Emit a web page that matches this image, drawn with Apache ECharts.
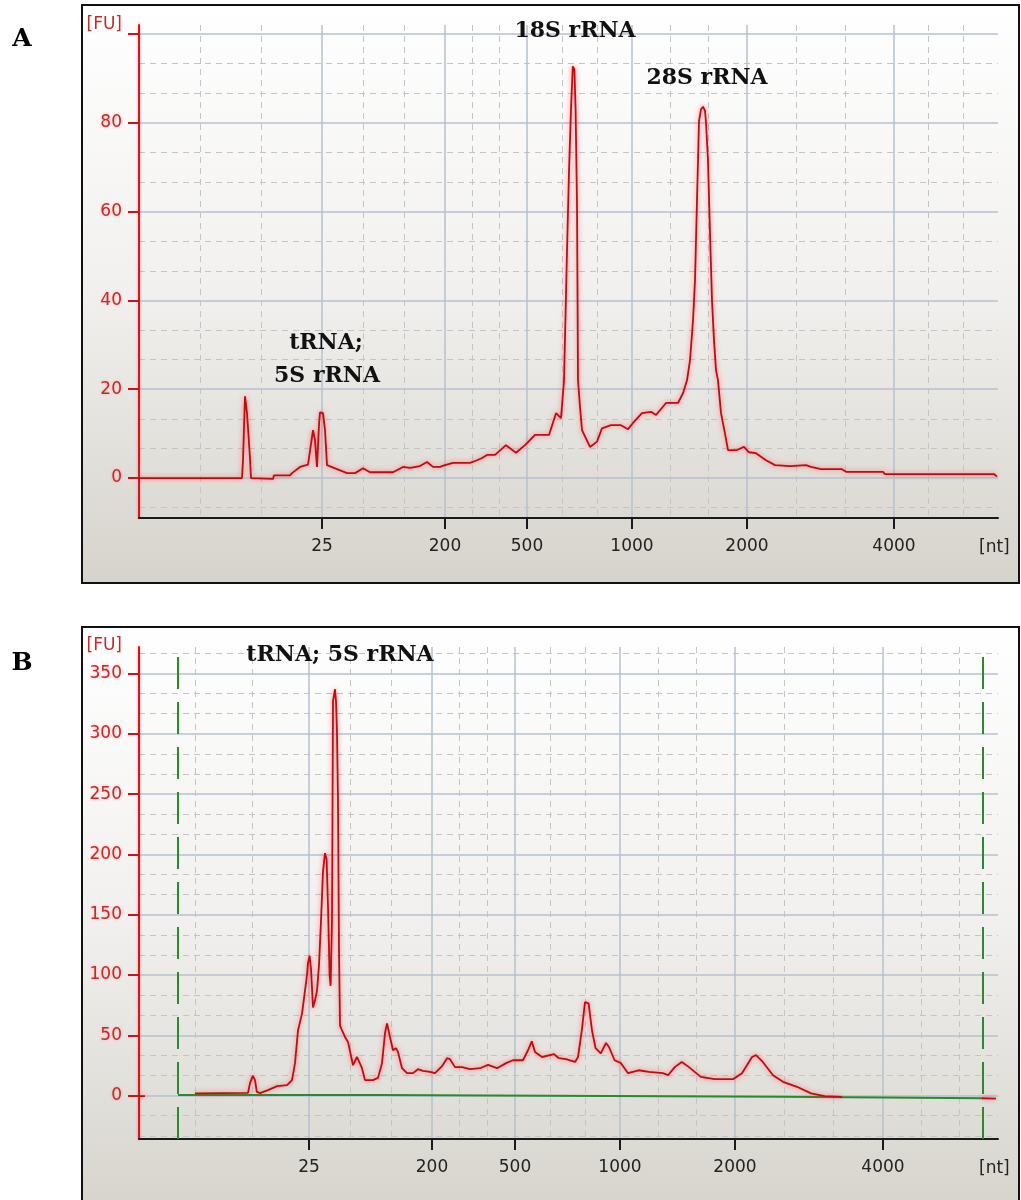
<!DOCTYPE html>
<html><head><meta charset="utf-8">
<script src="https://cdn.jsdelivr.net/npm/echarts@6/dist/echarts.min.js"></script>
<style>html,body{margin:0;padding:0;background:#fff}#c{width:1021px;height:1200px}</style>
</head><body><div id="c"></div>
<script>
// ---- shared axis data ----
const ladderNt = [25, 200, 500, 1000, 2000, 4000];
const ladderTimeA = [16.1, 22.25, 26.35, 31.6, 37.35, 44.7];
const ladderTimeB = [15.45, 21.6, 25.75, 31.0, 36.75, 44.15];
const timeRange = [6.95, 49.9];
const fuTicksA = [0, 20, 40, 60, 80, 100];
const fuLabelsA = [0, 20, 40, 60, 80];
const fuTicksB = [0, 50, 100, 150, 200, 250, 300, 350];
const fuRangeA = [-9, 102];
const fuRangeB = [-36, 372];

// ---- panel A trace (migration time s, FU) ----
const timeA = [6.95,12.1,12.15,12.25,12.35,12.5,12.55,12.65,13.65,13.7,14.5,14.6,15.0,15.4,15.5,15.65,15.75,15.85,15.95,16.0,16.15,16.25,16.35,16.85,17.35,17.75,18.15,18.5,19.65,20.15,20.5,21.0,21.35,21.65,22.0,22.25,22.65,23.5,23.85,24.1,24.35,24.75,25.3,25.8,26.25,26.75,27.45,27.8,28.05,28.2,28.35,28.45,28.55,28.64,28.72,28.78,28.85,28.9,29.0,29.1,29.5,29.85,30.1,30.55,31.05,31.4,31.65,32.1,32.55,32.8,33.3,33.9,34.15,34.35,34.5,34.65,34.75,34.85,34.95,35.05,35.15,35.25,35.3,35.4,35.5,35.6,35.7,35.8,35.9,36.05,36.25,36.4,36.85,37.2,37.45,37.8,38.3,38.75,39.5,40.3,40.55,41.05,42.1,42.3,44.15,44.25,49.7,49.85];
const fuA = [0,0,4.0,18.4,14.6,4.5,0,-0.2,-0.2,0.6,0.6,1.1,2.5,3.0,3.4,10.8,8.5,2.5,12,14.8,14.6,10.8,2.9,2.0,1.1,1.1,2.2,1.3,1.3,2.5,2.3,2.7,3.6,2.5,2.5,2.9,3.4,3.4,4.0,4.5,5.2,5.2,7.4,5.7,7.4,9.7,9.7,14.6,13.5,22,51,69,83,92.7,92,83,62,22,16,10.8,7.0,8.2,11.2,11.9,11.9,11.0,12.4,14.6,14.9,14.2,16.9,16.9,19.1,22,26.5,35.5,44.5,62.5,80.4,83,83.6,82.7,80,71.5,55,40,31,24.3,22,14.6,10,6.3,6.3,7.0,5.8,5.6,4.0,2.9,2.7,2.9,2.5,2.0,2.0,1.4,1.4,0.9,0.9,0.3];

// ---- panel B trace ----
const timeB = [6.95,7.25,7.3,9.75,12.4,12.5,12.64,12.75,12.84,13.0,13.4,13.85,14.35,14.6,14.75,14.9,15.1,15.25,15.35,15.4,15.48,15.55,15.65,15.75,15.85,15.95,16.05,16.15,16.25,16.33,16.4,16.48,16.53,16.6,16.65,16.75,16.8,16.85,16.9,16.95,17.0,17.1,17.25,17.4,17.65,17.85,17.95,18.1,18.25,18.65,18.9,19.1,19.25,19.35,19.5,19.65,19.8,19.9,20.1,20.35,20.65,20.9,21.15,21.5,21.75,22.1,22.35,22.5,22.75,23.1,23.5,24.0,24.4,24.85,25.3,25.65,26.15,26.4,26.59,26.75,27.1,27.7,27.95,28.3,28.75,28.9,29.09,29.25,29.43,29.6,29.78,30.04,30.3,30.45,30.73,31.05,31.4,31.93,32.45,33.14,33.4,33.75,34.09,34.43,35.04,35.73,36.65,37.1,37.6,37.8,38.14,38.65,39.15,39.85,40.55,41.24,42.1,42.15,49.1,49.8];
const fuB = [-0.4,-0.4,'-',1.8,2.3,10.3,16.4,12.8,3.1,2.1,4.5,7.9,8.7,12.8,26.9,54,68,87,100,110,116,105,73,79,87,108,145,186,201,196,157,100,91,145,327,337,327,300,244,120,58,54,48.6,44.5,25.2,32,33.5,22.7,12.8,12.8,14.7,26.9,51.7,59.9,48.6,37.6,39.3,36.2,22.7,18.6,18.6,21.9,20.5,19.7,18.6,24.4,31,30.2,23.6,23.6,21.9,22.7,25.5,22.7,26.9,29.3,29.3,37.6,45,36.2,32,34.3,31,30.2,27.9,32,54,77.5,76.4,54,39.3,35,43.6,40.3,29.3,26.9,18.6,21,19.7,18.6,16.9,23.8,27.9,23.8,15.5,13.6,13.6,18.6,32,33.5,27.9,16.9,11.4,7.3,1.8,-0.4,-1,'-',-2.2,-2.6];
const baselineTimeB = [8.9, 19.0, 19.0, 39.0, 39.0, 49.15];
const baselineFuB = [0.4, 0.4, -1.0, -1.0, -2.3, -2.3];
const markerTimeB = [8.9, 49.15];

const annotationA = ['18S rRNA', '28S rRNA', 'tRNA;', '5S rRNA'];
const annotationB = ['tRNA; 5S rRNA'];

// ---- helpers ----
function thirds(bounds) {
  const out = [];
  for (let i = 0; i < bounds.length - 1; i++) {
    const a = bounds[i], b = bounds[i + 1];
    out.push(a + (b - a) / 3, a + 2 * (b - a) / 3);
  }
  return out;
}
function minorY(range, step) {
  const s = step / 3, out = [];
  for (let j = Math.ceil(range[0] / s); j * s <= range[1]; j++) {
    if (j % 3 !== 0) out.push(j * s);
  }
  return out;
}
function ntLabel(ladderTime) {
  return function (v) {
    let best = 0;
    ladderTime.forEach((t, i) => { if (Math.abs(t - v) < Math.abs(ladderTime[best] - v)) best = i; });
    return String(ladderNt[best]);
  };
}
const zip = (xs, ys) => xs.map((x, i) => [x, ys[i]]);

const RED = '#c20a12';
const GRIDMAJ = '#b5c0d0';
const GRIDMIN = '#c4c4c4';
const labelFont = 'DejaVu Sans';

function xAxes(g, ladder) {
  const minor = thirds([timeRange[0], ...ladder, timeRange[1]]);
  return [
    { gridIndex: g, type: 'value', min: timeRange[0], max: timeRange[1], position: 'bottom',
      axisLine: { show: true, onZero: false, lineStyle: { color: '#1a1a1a', width: 2 } },
      axisTick: { show: true, customValues: ladder, length: 11, lineStyle: { color: '#1a1a1a', width: 2 } },
      axisLabel: { customValues: ladder, formatter: ntLabel(ladder), margin: 20, color: '#222', fontSize: 17, fontFamily: labelFont },
      splitLine: { show: true, lineStyle: { color: GRIDMAJ, width: 1.5 } } },
    { gridIndex: g, type: 'value', min: timeRange[0], max: timeRange[1], position: 'bottom',
      axisLine: { show: false }, axisTick: { show: false, customValues: minor },
      axisLabel: { show: false, customValues: minor },
      splitLine: { show: true, lineStyle: { color: GRIDMIN, width: 1, type: [6, 5] } } }
  ];
}
function yAxes(g, ticks, labels, range, step) {
  const minor = minorY(range, step);
  return [
    { gridIndex: g, type: 'value', min: range[0], max: range[1],
      axisLine: { show: true, onZero: false, lineStyle: { color: '#d4161c', width: 2, shadowColor: 'rgba(255,0,0,0.4)', shadowBlur: 3 } },
      axisTick: { show: true, customValues: ticks, length: 11, lineStyle: { color: '#c8141c', width: 2 } },
      axisLabel: { customValues: labels, margin: 17, color: '#c52a2a', fontSize: 17, fontFamily: labelFont,
        textShadowColor: 'rgba(255,40,40,0.35)', textShadowBlur: 3 },
      splitLine: { show: true, lineStyle: { color: GRIDMAJ, width: 1.5 } } },
    { gridIndex: g, type: 'value', min: range[0], max: range[1],
      axisLine: { show: false }, axisTick: { show: false, customValues: minor },
      axisLabel: { show: false, customValues: minor },
      splitLine: { show: true, lineStyle: { color: GRIDMIN, width: 1, type: [6, 5] } } }
  ];
}

const bg = { type: 'linear', x: 0, y: 0, x2: 0, y2: 1,
  colorStops: [{ offset: 0, color: '#ffffff' }, { offset: 0.5, color: '#f1f0ee' }, { offset: 1, color: '#d6d3cc' }] };
const annFont = 'bold 22px "DejaVu Serif"';
function txt(text, x, y, font, fill, align) {
  return { type: 'text', x: x, y: y, z: 50,
    style: { text: text, font: font, fill: fill, align: align || 'center', verticalAlign: 'middle',
      textAlign: align || 'center', textVerticalAlign: 'middle' } };
}
const redLine = { color: RED, width: 1.8, shadowColor: 'rgba(255,40,40,0.6)', shadowBlur: 5 };

const option = {
  animation: false,
  backgroundColor: '#ffffff',
  grid: [
    { left: 139, top: 25, width: 859, height: 493 },
    { left: 139, top: 647, width: 859, height: 492 }
  ],
  xAxis: [...xAxes(0, ladderTimeA), ...xAxes(1, ladderTimeB)],
  yAxis: [...yAxes(0, fuTicksA, fuLabelsA, fuRangeA, 20), ...yAxes(1, fuTicksB, fuTicksB, fuRangeB, 50)],
  graphic: [
    { type: 'rect', z: -10, shape: { x: 82, y: 5, width: 937, height: 578 }, style: { fill: bg, stroke: '#111', lineWidth: 2 } },
    { type: 'rect', z: -10, shape: { x: 82, y: 627, width: 937, height: 590 }, style: { fill: bg, stroke: '#111', lineWidth: 2 } },
    txt('A', 22, 39, 'bold 25px "DejaVu Serif"', '#000'),
    txt('B', 22, 663, 'bold 25px "DejaVu Serif"', '#000'),
    txt(annotationA[0], 575, 31, annFont, '#111'),
    txt(annotationA[1], 707, 78, annFont, '#111'),
    txt(annotationA[2], 326, 343, annFont, '#111'),
    txt(annotationA[3], 327, 376, annFont, '#111'),
    txt(annotationB[0], 340, 655, annFont, '#111'),
    txt('[FU]', 122, 25, '17px "DejaVu Sans"', '#c52a2a', 'right'),
    txt('[FU]', 122, 646, '17px "DejaVu Sans"', '#c52a2a', 'right'),
    txt('[nt]', 979, 548, '17px "DejaVu Sans"', '#222', 'left'),
    txt('[nt]', 979, 1169, '17px "DejaVu Sans"', '#222', 'left')
  ],
  series: [
    { name: 'Sample A', type: 'line', xAxisIndex: 0, yAxisIndex: 0, data: zip(timeA, fuA),
      symbol: 'none', lineStyle: redLine, z: 5 },
    { name: 'Baseline B', type: 'line', xAxisIndex: 2, yAxisIndex: 2, data: zip(baselineTimeB, baselineFuB),
      symbol: 'none', lineStyle: { color: '#2b8a2b', width: 2 }, z: 4,
      markLine: { silent: true, symbol: 'none', label: { show: false },
        lineStyle: { color: '#2b8a2b', width: 2, type: [32, 13] },
        data: markerTimeB.map(t => ({ xAxis: t })) } },
    { name: 'Sample B', type: 'line', xAxisIndex: 2, yAxisIndex: 2, data: zip(timeB, fuB),
      symbol: 'none', connectNulls: false, lineStyle: redLine, z: 5 }
  ]
};
echarts.init(document.getElementById('c'), null, { renderer: 'canvas' }).setOption(option);
</script></body></html>
